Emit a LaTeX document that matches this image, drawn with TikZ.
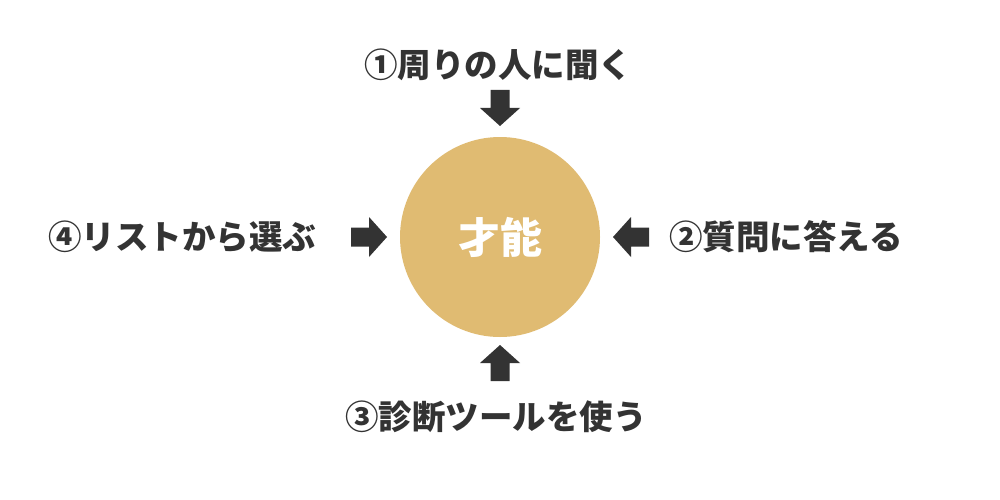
\documentclass[tikz,border=0pt]{standalone}
\usepackage{fontspec}
\newfontfamily\cjk{Noto Sans CJK JP}
\definecolor{gold}{HTML}{E0BB72}
\definecolor{ink}{HTML}{333333}
\tikzset{
  lbl/.style={font=\cjk\bfseries\fontsize{33.5}{36}\selectfont, text=ink, inner sep=0pt},
  blockarrow/.pic={\fill[ink] (0,0) -- (-18,20) -- (-18,9.5) -- (-36,9.5) -- (-36,-9.5) -- (-18,-9.5) -- (-18,-20) -- cycle;},
}
\begin{document}
\begin{tikzpicture}[x=1pt,y=-1pt]
\useasboundingbox (0,0) rectangle (1000,500);
\fill[white] (0,0) rectangle (1000,500);
\node[circle, fill=gold, minimum size=200pt, inner sep=0pt] (core) at (500,237) {};
\node[font=\cjk\bfseries\fontsize{42}{46}\selectfont, text=white] (coret) at (500,237) {才能};
\node[lbl] (t1) at (498,65) {①周りの人に聞く};
\node[lbl] (t2) at (786,237) {②質問に答える};
\node[lbl] (t3) at (496,417) {③診断ツールを使う};
\node[lbl] (t4) at (182,237) {④リストから選ぶ};
\pic[rotate=-90] (a1) at (500,126) {blockarrow};
\pic[rotate=180] (a2) at (613,237) {blockarrow};
\pic[rotate=90] (a3) at (500,345) {blockarrow};
\pic (a4) at (387,237) {blockarrow};
\end{tikzpicture}
\end{document}
